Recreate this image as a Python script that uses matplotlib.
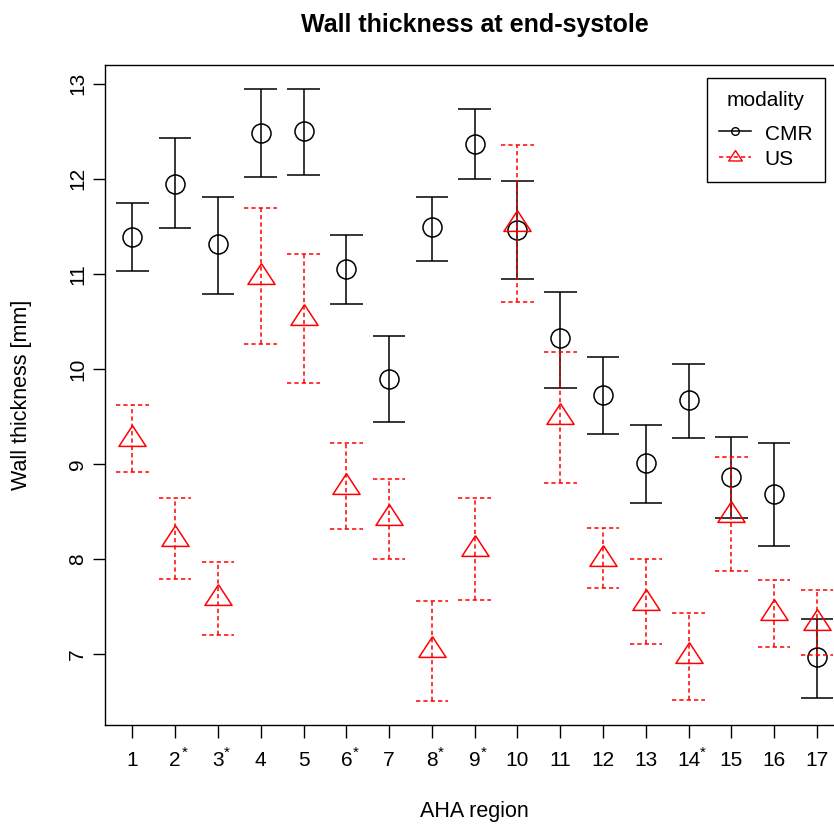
import matplotlib
matplotlib.use("Agg")
import matplotlib.pyplot as plt
import numpy as np
from matplotlib.lines import Line2D

plt.rcParams['font.family'] = ['Liberation Sans', 'DejaVu Sans']

regions = list(range(1, 18))
starred = [2, 3, 6, 8, 9, 14]

cmr_mean = [11.39, 11.95, 11.31, 12.48, 12.50, 11.05, 9.89, 11.49, 12.37,
            11.46, 10.32, 9.72, 9.01, 9.67, 8.86, 8.68, 6.97]
cmr_upper = [11.74, 12.43, 11.81, 12.94, 12.94, 11.41, 10.35, 11.81, 12.73,
             11.98, 10.81, 10.13, 9.41, 10.05, 9.28, 9.22, 7.37]
cmr_lower = [11.03, 11.48, 10.79, 12.02, 12.04, 10.68, 9.44, 11.13, 12.00,
             10.95, 9.80, 9.31, 8.59, 9.27, 8.43, 8.14, 6.54]

us_mean = [9.26, 8.21, 7.59, 10.97, 10.53, 8.76, 8.43, 7.04, 8.10,
           11.52, 9.49, 8.00, 7.54, 6.98, 8.46, 7.43, 7.33]
us_upper = [9.62, 8.64, 7.97, 11.69, 11.21, 9.22, 8.84, 7.56, 8.64,
            12.36, 10.18, 8.33, 8.00, 7.43, 9.07, 7.78, 7.67]
us_lower = [8.91, 7.79, 7.20, 10.26, 9.85, 8.31, 8.00, 6.51, 7.57,
            10.70, 8.80, 7.69, 7.11, 6.52, 7.87, 7.07, 6.99]

y_ticks = [7, 8, 9, 10, 11, 12, 13]

W, H = 834, 831
fig = plt.figure(figsize=(W / 100, H / 100), dpi=100)
ax = fig.add_axes([105 / W, 106 / H, (844.4 - 105) / W, 660 / H])

x = np.array(regions, dtype=float)
cap = 0.38
lw = 1.1
dash = (0, (2.8, 2.0))

tri = [(0, 1), (-0.98, -0.5), (0.98, -0.5), (0, 1)]

# CMR
ax.vlines(x, cmr_lower, cmr_upper, colors='black', linewidth=lw, zorder=2)
ax.hlines(cmr_upper, x - cap, x + cap, colors='black', linewidth=lw, zorder=2)
ax.hlines(cmr_lower, x - cap, x + cap, colors='black', linewidth=lw, zorder=2)
ax.plot(x, cmr_mean, linestyle='none', marker='o', markersize=13.7,
        markerfacecolor='none', markeredgecolor='black', markeredgewidth=lw, zorder=3)

# US
ax.vlines(x, us_lower, us_upper, colors='red', linewidth=lw, linestyles=[dash], zorder=4)
ax.hlines(us_upper, x - cap, x + cap, colors='red', linewidth=lw, linestyles=[dash], zorder=4)
ax.hlines(us_lower, x - cap, x + cap, colors='red', linewidth=lw, linestyles=[dash], zorder=4)
ax.plot(x, us_mean, linestyle='none', marker=tri, markersize=19.9,
        markerfacecolor='none', markeredgecolor='red', markeredgewidth=lw, zorder=5)

ax.set_xlim(0.36, 17.64)
ax.set_ylim(6.253, 13.197)

ax.set_xticks(x)
ax.set_xticklabels([str(r) for r in regions])
ax.set_yticks(y_ticks)
ax.set_yticklabels([str(t) for t in y_ticks], rotation=90, va='center')

ax.tick_params(axis='both', direction='out', length=9, width=1, labelsize=15,
               colors='black')
ax.tick_params(axis='x', pad=10)
ax.tick_params(axis='y', pad=4)

for s in ax.spines.values():
    s.set_color('black')
    s.set_linewidth(1)

for r in starred:
    off = 3.6 * len(str(r)) + 3.0
    ax.annotate('*', xy=(r, 0), xycoords=('data', 'axes fraction'),
                xytext=(off, -20), textcoords='offset points',
                ha='center', va='center', fontsize=11, color='black')

ax.set_title('Wall thickness at end-systole', fontsize=18, fontweight='bold', pad=24)
ax.set_xlabel('AHA region', fontsize=15.5, labelpad=22)
ax.set_ylabel('Wall thickness [mm]', fontsize=15.5, labelpad=26)

h1 = Line2D([], [], color='black', linewidth=lw, marker='o', markersize=5.5,
            markerfacecolor='none', markeredgecolor='black')
h2 = Line2D([], [], color='red', linewidth=lw, linestyle=(0, (2.8, 2.0)), marker=tri,
            markersize=10, markerfacecolor='none', markeredgecolor='red')
leg = ax.legend([h1, h2], ['CMR', 'US'], title='modality', loc='upper right',
                bbox_to_anchor=(825 / W, (H - 78) / H), bbox_transform=fig.transFigure,
                fontsize=15, title_fontsize=15, frameon=True, fancybox=False,
                edgecolor='black', framealpha=1, handlelength=1.55, handletextpad=0.65,
                handleheight=1.2, borderpad=0.6, labelspacing=0.19, borderaxespad=0)
leg._legend_box.sep = 9
leg.get_frame().set_linewidth(1)

fig.savefig('out.png', dpi=100)
